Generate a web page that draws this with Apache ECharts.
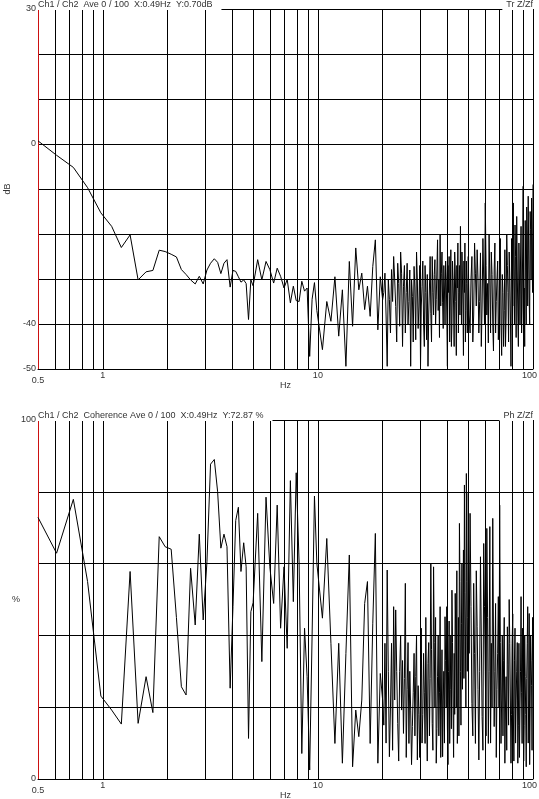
<!DOCTYPE html>
<html>
<head>
<meta charset="utf-8">
<title>Ch1 / Ch2</title>
<script src="https://cdn.jsdelivr.net/npm/echarts@6/dist/echarts.min.js"></script>
<style>
  html, body { margin: 0; padding: 0; background: #fff; }
  #c1 { width: 539px; height: 799px; }
</style>
</head>
<body>
<div id="c1"></div>
<script>
// frequency points (Hz), shared by both traces
var freqHz = [
  0.5, 0.61, 0.73, 0.85, 0.98, 1.10, 1.22, 1.34, 1.46, 1.59, 1.71, 1.83, 1.95, 2.08, 2.20, 2.32, 2.44, 2.56, 2.69,
  2.81, 2.93, 3.05, 3.17, 3.30, 3.42, 3.54, 3.66, 3.78, 3.91, 4.03, 4.15, 4.27, 4.39, 4.52, 4.64, 4.76, 4.88,
  5.00, 5.25, 5.49, 5.74, 5.98, 6.23, 6.47, 6.71, 6.96, 7.20, 7.45, 7.69, 7.93, 8.18, 8.42, 8.67, 8.91, 9.16,
  9.40, 9.64, 9.89,
  10.5, 11, 11.5, 12, 12.5, 13, 13.5, 14, 14.5, 15, 15.5, 16, 16.5, 17, 17.5, 18, 18.5, 19, 19.5, 20,
  20.25, 20.5, 20.75, 21, 21.25, 21.5, 21.75, 22,
  22.25, 22.5, 22.75, 23, 23.25, 23.5, 23.75, 24,
  24.25, 24.5, 24.75, 25, 25.25, 25.5, 25.75, 26,
  26.25, 26.5, 26.75, 27, 27.25, 27.5, 27.75, 28,
  28.25, 28.5, 28.75, 29, 29.25, 29.5, 29.75, 30,
  30.25, 30.5, 30.75, 31, 31.25, 31.5, 31.75, 32,
  32.25, 32.5, 32.75, 33, 33.25, 33.5, 33.75, 34,
  34.25, 34.5, 34.75, 35, 35.25, 35.5, 35.75, 36,
  36.25, 36.5, 36.75, 37, 37.25, 37.5, 37.75, 38,
  38.25, 38.5, 38.75, 39, 39.25, 39.5, 39.75, 40,
  40.25, 40.5, 40.75, 41, 41.25, 41.5, 41.75, 42,
  42.25, 42.5, 42.75, 43, 43.25, 43.5, 43.75, 44,
  44.25, 44.5, 44.75, 45, 45.25, 45.5, 45.75, 46,
  46.25, 46.5, 46.75, 47, 47.25, 47.5, 47.75, 48,
  48.25, 48.5, 48.75, 49, 49.25, 49.5, 49.75, 50,
  50.5, 51, 51.5, 52, 52.5, 53, 53.5, 54, 54.5, 55,
  55.5, 56, 56.5, 57, 57.5, 58, 58.5, 59, 59.5, 60,
  60.5, 61, 61.5, 62, 62.5, 63, 63.5, 64, 64.5, 65,
  65.5, 66, 66.5, 67, 67.5, 68, 68.5, 69, 69.5, 70,
  70.5, 71, 71.5, 72, 72.5, 73, 73.5, 74, 74.5, 75,
  75.5, 76, 76.5, 77, 77.5, 78, 78.5, 79, 79.5, 80,
  80.5, 81, 81.5, 82, 82.5, 83, 83.5, 84, 84.5, 85,
  85.5, 86, 86.5, 87, 87.5, 88, 88.5, 89, 89.5, 90,
  90.5, 91, 91.5, 92, 92.5, 93, 93.5, 94, 94.5, 95,
  95.5, 96, 96.5, 97, 97.5, 98, 98.5, 99, 99.5, 100
];

// Tr Z/Zf (dB)
var gainDb = [
  0.7, -2.5, -5.2, -9.7, -15.3, -18.3, -23.0, -20.2, -30.2, -28.4, -28.1, -23.6, -23.9, -24.5, -25.1, -27.9, -29.0, -30.2, -31.1,
  -29.4, -31.1, -28.0, -26.5, -25.5, -26.3, -28.8, -26.5, -25.7, -31.8, -28.1, -28.3, -29.5, -30.7, -30.2, -31.0, -39.0, -30.2,
  -31.5, -25.7, -30.2, -26.1, -27.9, -30.9, -27.6, -29.4, -32.0, -30.1, -35.3, -31.6, -34.8, -35.0, -30.5, -32.7, -32.0, -47.2,
  -34.5, -30.8, -37.0,
  -45.7, -35.0, -39.4, -29.5, -42.7, -32.4, -49.4, -26.1, -40.5, -23.1, -32.4, -28.7, -36.8, -31.6, -38.3, -27.2, -21.3, -41.3, -29.5, -34.6,
  -33, -28.7, -38, -49.4, -30, -34.6, -42, -27.9,
  -35, -25.0, -30, -36.1, -44, -26.5, -31, -40.5,
  -24, -28.7, -45, -31.6, -27, -42.0, -33, -26.5,
  -40, -35.0, -28, -49.4, -30, -33.9, -44, -27.2,
  -32, -43.5, -24, -30.1, -41, -36.0, -27, -49.4,
  -36, -31.6, -26, -40.0, -45, -27.0, -33, -43.5,
  -29, -49.4, -38, -32.0, -25, -37.6, -44, -25.0,
  -33, -38.0, -29, -25.7, -40, -34.5, -28, -21.3,
  -37, -30.0, -43, -20.2, -36, -28.7, -24, -35.3,
  -41, -27.0, -32, -40.0, -26, -30.0, -38, -49.4,
  -27, -33.0, -25, -44.0, -34, -23.5, -45, -40.0,
  -26, -30.0, -36, -45.0, -24, -28.0, -35, -47.0,
  -27, -32.0, -22, -42.0, -33, -27.0, -38, -18.3,
  -30, -40.0, -24, -30.0, -36, -47.0, -26, -33.0,
  -22, -44.0, -37, -26.0, -31, -42.0, -34, -25.0,
  -38, -42.0, -30, -25.0, -44, -38.0, -22, -28.7, -36, -23.5,
  -30, -42.0, -35, -24.2, -45, -36.0, -21, -30.0, -40, -13.1,
  -27, -38.0, -31, -44.2, -20, -30.0, -42, -24.0, -29, -40.0,
  -46, -28.0, -22, -42.0, -35, -30.0, -26, -43.5, -38, -26.0,
  -21, -40.0, -47, -29.0, -33, -45.0, -37, -23.5, -45, -38.0,
  -20, -27.0, -33, -44.0, -24, -30.0, -38, -49.4, -21, -28.0,
  -36, -13.1, -30, -40.0, -18, -25.0, -43, -16.1, -28, -38.0,
  -45, -22.0, -30, -40.0, -26, -18.3, -42, -36.0, -24, -9.4,
  -38, -32.0, -45, -17.0, -28, -40.0, -14, -20.0, -36, -11.6,
  -24, -34.0, -40, -15.0, -19, -30.0, -12, -22.0, -33, -9.0
];

// Coherence (%)
var coherencePct = [
  72.87, 62.9, 77.9, 55.0, 23.1, 19.2, 15.3, 57.8, 15.5, 28.5, 18.5, 67.5, 64.7, 64.0, 45.0, 25.7, 23.4, 58.7, 42.9,
  68.2, 44.3, 60.5, 87.7, 89.0, 80.0, 64.3, 68.2, 64.7, 25.3, 48.0, 72.0, 75.7, 57.8, 65.8, 59.1, 11.3, 46.6,
  49.1, 74.0, 32.7, 78.5, 59.1, 48.9, 76.3, 42.0, 59.1, 36.4, 83.1, 49.4, 85.3, 60.1, 7.1, 42.0, 28.5, 2.5,
  40.0, 78.8, 60.1,
  44.8, 67.0, 37.8, 9.9, 37.8, 4.4, 35.0, 62.4, 3.4, 19.2, 11.8, 22.0, 48.9, 55.0, 9.9, 43.4, 68.4, 4.4, 29.4, 22.0,
  15, 37.8, 10, 58.2, 30, 6.2, 20, 37.8,
  8, 48.0, 22, 47.1, 30, 15.5, 5, 30.0,
  40, 19.2, 33, 12.7, 28, 54.5, 6, 25.0,
  38, 9.9, 30, 19.2, 4, 14.6, 24, 35.0,
  12, 28.5, 40, 5.3, 26, 18.0, 6, 25.7,
  42, 10.0, 18, 35.0, 24, 9.9, 45, 20.0,
  5, 32.2, 38, 12.0, 28, 60.1, 36, 15.5,
  8, 59.1, 38, 20.0, 45, 4.4, 14, 28.5,
  40, 12.0, 24, 48.0, 6, 20.0, 36, 6.2,
  22, 30.0, 10, 45.2, 33, 20.0, 48, 14.6,
  4, 30.0, 44, 9.9, 25, 40.0, 14, 52.6,
  38, 19.2, 6, 35.0, 18, 51.7, 40, 20.0,
  58, 9.9, 22, 45.0, 12, 71.2, 55, 30.0,
  15, 43.4, 60, 25.0, 40, 63.8, 28, 81.9,
  52, 40.0, 20, 85.1, 55, 30.0, 45, 79.6,
  35, 74.0, 48, 21.1, 12, 54.5, 35, 9.9, 58, 42.4,
  25, 5.3, 30, 61.9, 40, 17.4, 8, 65.6, 48, 30.0,
  12, 69.8, 45, 9.9, 30, 70.3, 10, 37.8, 20, 72.6,
  40, 14.6, 30, 48.9, 6, 25.0, 35, 50.8, 20, 76.3,
  38, 9.9, 22, 40.0, 12, 33.1, 45, 4.4, 20, 28.5,
  8, 42.4, 32, 15.0, 50, 37.8, 22, 4.4, 18, 37.8,
  46, 19.2, 5, 33.1, 42, 10.0, 22, 30.0, 38, 4.4,
  15, 37.8, 6, 20.0, 30, 50.8, 24, 9.9, 42, 32.2,
  5, 15.0, 40, 28.5, 18, 3.4, 28, 37.8, 48, 10.0,
  22, 46.1, 4, 20.0, 40, 33.1, 26, 8.0, 45, 33.1
];

var gridHz = [0.6, 0.7, 0.8, 0.9, 1, 2, 3, 4, 5, 6, 7, 8, 9, 10, 20, 30, 40, 50, 60, 70, 80, 90, 100];
var dbLabelTicks = [30, 0, -40, -50];
var pctLabelTicks = [0, 100];

var chartDom = document.getElementById("c1");
var myChart = echarts.init(chartDom, null, { renderer: "canvas" });
var option;

function pairs(ys) {
  return freqHz.map(function (f, i) {
    return [f, ys[i]];
  });
}

function hzAxis(idx) {
  return {
    type: "log",
    logBase: 10,
    gridIndex: idx,
    min: 0.5,
    max: 100,
    name: "Hz",
    nameLocation: "middle",
    nameGap: 12,
    nameMoveOverlap: false,
    nameTextStyle: { fontSize: 9, color: "#333" },
    axisLine: { onZero: false, lineStyle: { color: "#000", width: 1 } },
    axisTick: { show: false },
    splitLine: { show: false },
    axisLabel: {
      fontSize: 9,
      color: "#333",
      margin: 2,
      hideOverlap: false,
      formatter: function (v) {
        if (v < 1) return "{low|" + v + "}";
        if (v >= 100) return "{end|" + v + "}";
        return String(v);
      },
      rich: {
        low: { fontSize: 9, color: "#333", padding: [5, 0, 0, 0] },
        end: { fontSize: 9, color: "#333", padding: [0, 7, 0, 0] },
      },
    },
  };
}

function titleBox(text, pos, top) {
  var t = {
    text: text,
    top: top,
    padding: pos.left != null ? [0, 9, 0, 0] : [0, 0, 0, 4],
    backgroundColor: "#fff",
    textStyle: { fontSize: 9, fontWeight: "normal", color: "#333", lineHeight: 10 },
  };
  if (pos.left != null) t.left = pos.left;
  else t.right = pos.right;
  return t;
}

var vLines = {
  silent: true,
  symbol: ["none", "none"],
  label: { show: false },
  emphasis: { disabled: true },
  lineStyle: { color: "#000", width: 1, type: "solid" },
  data: gridHz.map(function (v) {
    return { xAxis: v };
  }),
};

option = {
  animation: false,
  textStyle: { fontFamily: "Liberation Sans, Arial, sans-serif" },
  title: [
    titleBox("Ch1 / Ch2  Ave 0 / 100  X:0.49Hz  Y:0.70dB", { left: 38 }, 0),
    titleBox("Tr Z/Zf", { right: 6 }, 0),
    titleBox("Ch1 / Ch2  Coherence Ave 0 / 100  X:0.49Hz  Y:72.87 %", { left: 38 }, 411),
    titleBox("Ph Z/Zf", { right: 6 }, 411),
  ],
  grid: [
    { left: 38, top: 9, width: 495, height: 360, containLabel: false, outerBoundsMode: "none" },
    { left: 38, top: 420, width: 495, height: 359, containLabel: false, outerBoundsMode: "none" },
  ],
  xAxis: [hzAxis(0), hzAxis(1)],
  yAxis: [
    {
      type: "value",
      gridIndex: 0,
      min: -50,
      max: 30,
      interval: 10,
      name: "dB",
      nameLocation: "middle",
      nameRotate: 90,
      nameGap: 26,
      nameMoveOverlap: false,
      nameTextStyle: { fontSize: 9, color: "#333" },
      axisLine: { show: true, onZero: false, lineStyle: { color: "#cc1111", width: 1 } },
      axisTick: { show: false },
      splitLine: { show: true, lineStyle: { color: "#000", width: 1 } },
      axisLabel: {
        fontSize: 9,
        color: "#333",
        margin: 2,
        formatter: function (v) {
          return dbLabelTicks.indexOf(v) >= 0 ? String(v) : "";
        },
      },
    },
    {
      type: "value",
      gridIndex: 1,
      min: 0,
      max: 100,
      interval: 20,
      name: "%",
      nameLocation: "middle",
      nameRotate: 0,
      nameGap: 18,
      nameMoveOverlap: false,
      nameTextStyle: { fontSize: 9, color: "#333" },
      axisLine: { show: true, onZero: false, lineStyle: { color: "#cc1111", width: 1 } },
      axisTick: { show: false },
      splitLine: { show: true, lineStyle: { color: "#000", width: 1 } },
      axisLabel: {
        fontSize: 9,
        color: "#333",
        margin: 2,
        formatter: function (v) {
          return pctLabelTicks.indexOf(v) >= 0 ? String(v) : "";
        },
      },
    },
  ],
  series: [
    {
      name: "Tr Z/Zf",
      type: "line",
      xAxisIndex: 0,
      yAxisIndex: 0,
      data: pairs(gainDb),
      showSymbol: false,
      symbol: "none",
      clip: true,
      lineStyle: { color: "#000", width: 1 },
      emphasis: { disabled: true },
      markLine: vLines,
    },
    {
      name: "Coherence",
      type: "line",
      xAxisIndex: 1,
      yAxisIndex: 1,
      data: pairs(coherencePct),
      showSymbol: false,
      symbol: "none",
      clip: true,
      lineStyle: { color: "#000", width: 1 },
      emphasis: { disabled: true },
      markLine: vLines,
    },
  ],
};
myChart.setOption(option);
</script>
</body>
</html>
